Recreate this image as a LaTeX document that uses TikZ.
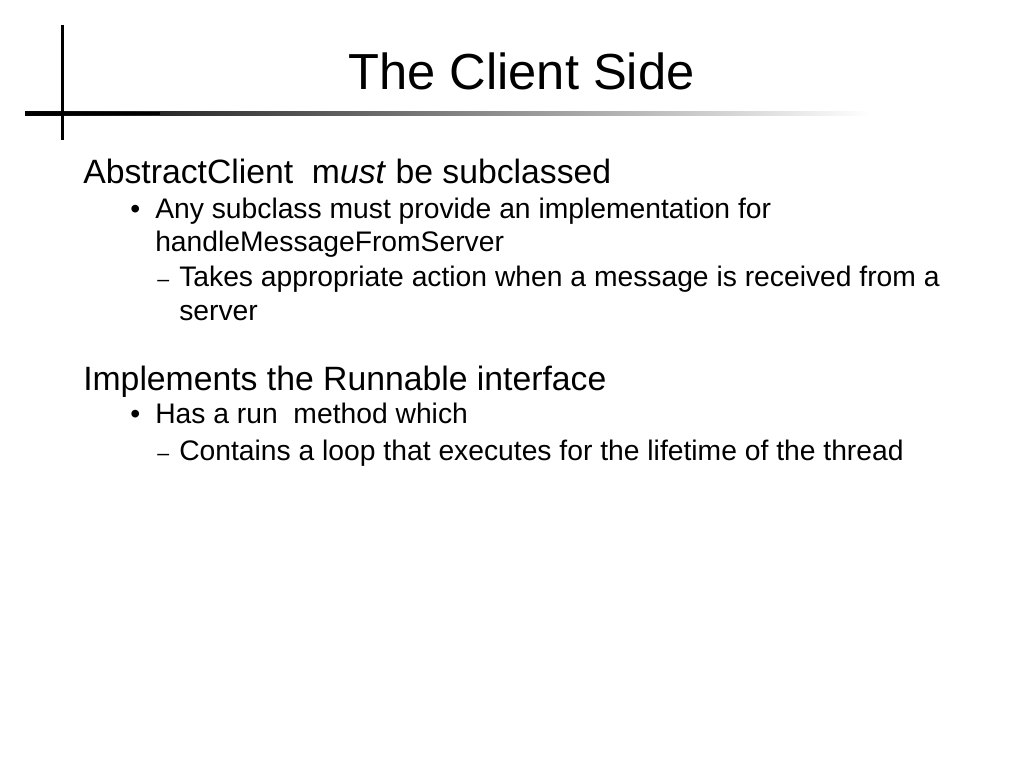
\documentclass[tikz,border=0pt]{standalone}
\usepackage{fontspec}
\setmainfont{Liberation Sans}
\begin{document}
\begin{tikzpicture}[x=0.75pt,y=-0.75pt,
  t/.style={anchor=base west,inner sep=0pt},
  big/.style={t,font=\fontsize{25.3}{30}\selectfont},
  sm/.style={t,font=\fontsize{21.2}{25}\selectfont}]
\useasboundingbox (0,0) rectangle (1024,768);
\shade[left color=black,right color=white] (25,111.5) rectangle (870,115);
\fill[black] (25,111.5) rectangle (160,115);
\fill[black] (60.5,25) rectangle (64,140);
\node[t,font=\fontsize{38}{44}\selectfont] (title) at (348,89) {The Client Side};
\node[big] (a1) at (83,183) {AbstractClient \ m\textit{ust} be subclassed};
\node[sm] (b1) at (130,218) {•};
\node[sm] (b1t) at (155,218) {Any subclass must provide an implementation for};
\node[sm] (b1u) at (155,251) {handleMessageFromServer};
\node[sm,font=\fontsize{16}{20}\selectfont] (c1) at (157,286) {–};
\node[sm] (c1t) at (179,286) {Takes appropriate action when a message is received from a};
\node[sm] (c1u) at (179,320) {server};
\node[big] (a2) at (83,390) {Implements the Runnable interface};
\node[sm] (b2) at (130,423) {•};
\node[sm] (b2t) at (155,423) {Has a run \ method which};
\node[sm,font=\fontsize{16}{20}\selectfont] (c2) at (157,460) {–};
\node[sm] (c2t) at (179,460) {Contains a loop that executes for the lifetime of the thread};
\end{tikzpicture}
\end{document}
